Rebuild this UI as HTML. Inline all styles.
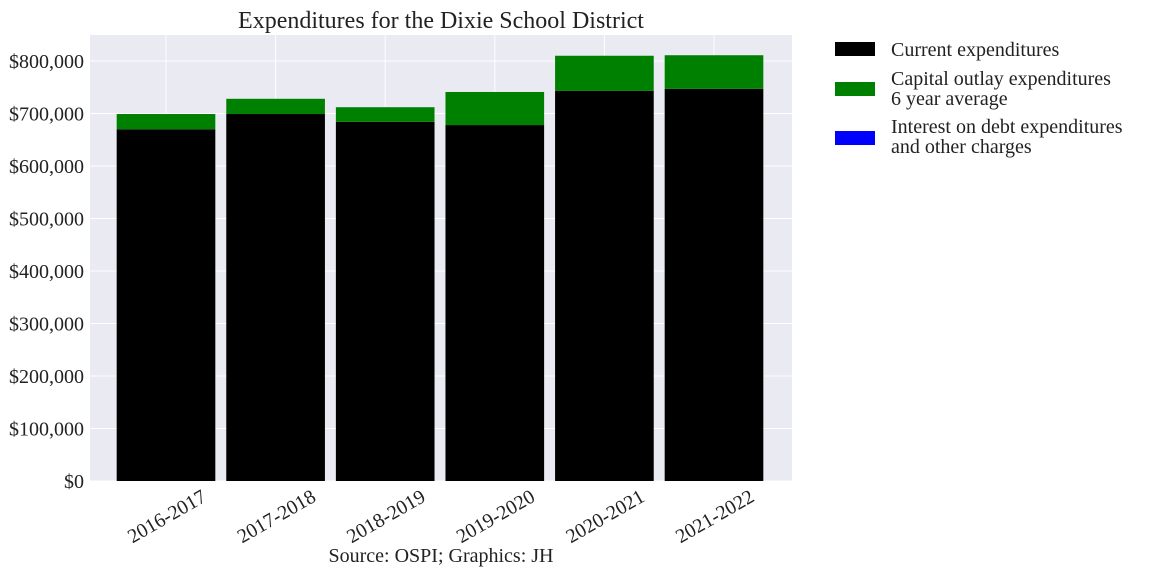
<!DOCTYPE html>
<html><head><meta charset="utf-8"><style>
body{margin:0;background:#fff;}
svg text{font-family:"Liberation Serif",serif;fill:#222;}
</style></head><body>
<svg width="1152" height="576" xmlns="http://www.w3.org/2000/svg">
<rect x="90" y="35" width="702" height="446" fill="#eaeaf2"/>
<g id="grid"></g><g id="bars"></g><g id="axes"></g>
<text x="441" y="28" font-size="24" text-anchor="middle">Expenditures for the Dixie School District</text>
<text x="441" y="562" font-size="20" text-anchor="middle">Source: OSPI; Graphics: JH</text>
<g>
<rect x="835" y="42" width="40" height="14" fill="#000"/>
<text x="891" y="56" font-size="20">Current expenditures</text>
<rect x="835" y="82" width="40" height="14" fill="#008000"/>
<text x="891" y="85" font-size="20">Capital outlay expenditures</text>
<text x="891" y="105" font-size="20">6 year average</text>
<rect x="835" y="131" width="40" height="14" fill="#0000ff"/>
<text x="891" y="133" font-size="20">Interest on debt expenditures</text>
<text x="891" y="153" font-size="20">and other charges</text>
</g>
</svg>
<script>
const categories=["2016-2017","2017-2018","2018-2019","2019-2020","2020-2021","2021-2022"];
const current=[670000,699000,684000,678000,743000,747000];
const capital=[29000,29000,28000,63000,67000,64000];
const interest=[0,0,0,0,0,0];
const yTicks=[0,100000,200000,300000,400000,500000,600000,700000,800000];
const NS="http://www.w3.org/2000/svg";
const y=v=>481-v*420/800000;
const step=109.6, x0=166;
const x=i=>x0+i*step;
const bw=step*0.9;
function mk(t,a,p){const e=document.createElementNS(NS,t);for(const k in a)e.setAttribute(k,a[k]);p.appendChild(e);return e;}
const grid=document.getElementById('grid'),bars=document.getElementById('bars'),axes=document.getElementById('axes');
yTicks.forEach(v=>{
 const l=mk('line',{x1:90,x2:792,y1:y(v),y2:y(v),stroke:'#fff','stroke-width':1},grid);
 
 
 const t=mk('text',{x:84,y:y(v)+7,'font-size':20,'text-anchor':'end'},axes);
 t.textContent='$'+v.toLocaleString('en-US');
 
 
});
categories.forEach((c,i)=>{
 const l=mk('line',{x1:x(i),x2:x(i),y1:35,y2:481,stroke:'#fff','stroke-width':1},grid);
 
 
 const b=mk('rect',{x:x(i)-bw/2,y:y(current[i]),width:bw,height:y(0)-y(current[i]),fill:'#000'},bars);
 
 
 const g=mk('rect',{x:x(i)-bw/2,y:y(current[i]+capital[i]),width:bw,height:y(current[i])-y(current[i]+capital[i]),fill:'#008000'},bars);
 
 
 const top=current[i]+capital[i];
 const r=mk('rect',{x:x(i)-bw/2,y:y(top+interest[i]),width:bw,height:y(top)-y(top+interest[i]),fill:'#0000ff'},bars);
 
 
 const t=mk('text',{x:0,y:0,'font-size':20,'text-anchor':'middle',transform:`translate(${x(i)+4},${522}) rotate(-30)`},axes);
 t.textContent=c;
 
 
});
</script>
</body></html>
